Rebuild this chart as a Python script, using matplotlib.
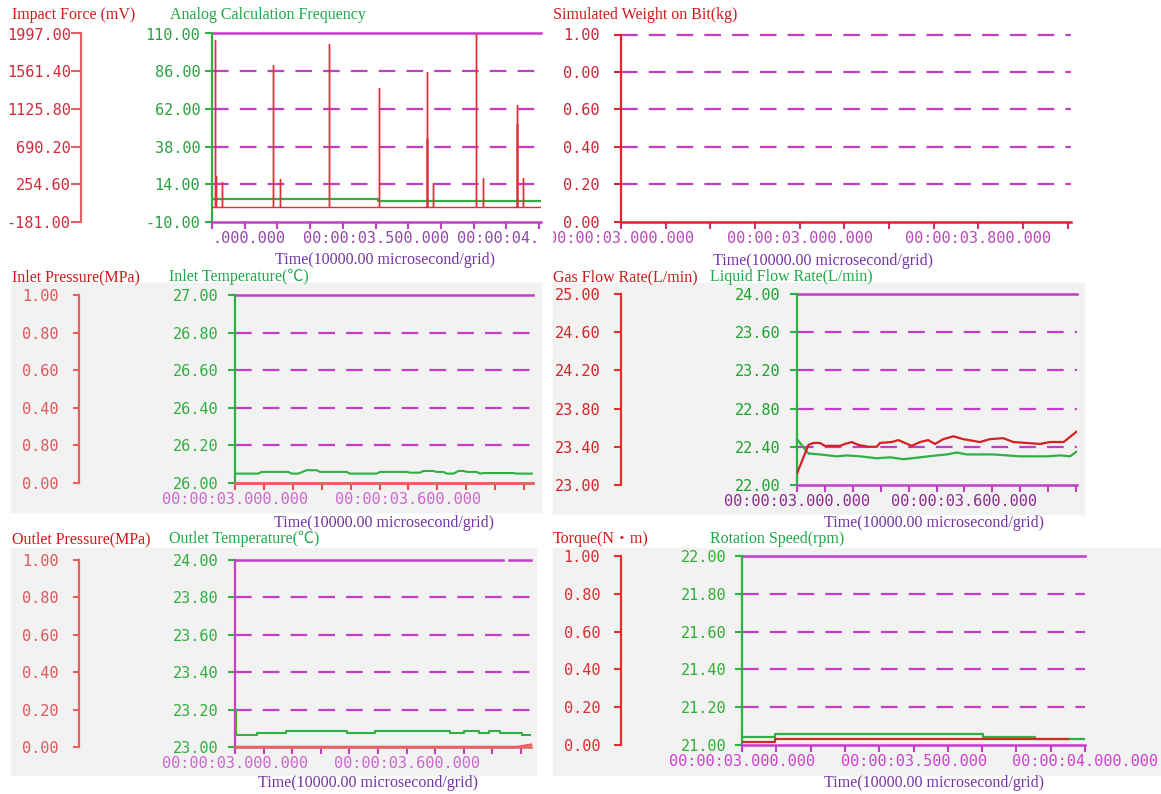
import numpy as np
import matplotlib
matplotlib.use("Agg")
import matplotlib.pyplot as plt
from matplotlib import font_manager
from matplotlib.patches import Rectangle
from matplotlib.transforms import Bbox, TransformedBbox

# ---------------- data ----------------
x_ticks = [3.0, 3.1, 3.2, 3.3, 3.4, 3.5, 3.6, 3.7, 3.8, 3.9, 4.0]

# Impact force (mV): spike times and peaks on a flat baseline
impact_spike_t = [3.010, 3.012, 3.030, 3.187, 3.207, 3.357, 3.511, 3.657,
                  3.658, 3.676, 3.808, 3.828, 3.932, 3.934, 3.950]
impact_spike_mv = [1920, 352, 282, 1631, 313, 1870, 1368, 1553,
                   787, 264, 2000, 322, 1169, 957, 322]
impact_base_mv = -7.0
impact_ticks = [1997.00, 1561.40, 1125.80, 690.20, 254.60, -181.00]
impact_xlabels = {0: ".000.000", 5: "00:00:03.500.000", 10: "00:00:04."}

# Analog calculation frequency
freq_t = [3.0, 3.508, 4.006]
freq_v = [4.5, 3.2, 3.2]
freq_ticks = [110.0, 86.0, 62.0, 38.0, 14.0, -10.0]

# Simulated weight on bit (kg)
wob_ticks = [1.0, 0.8, 0.6, 0.4, 0.2, 0.0]
wob_labels = ["1.00", "0.00", "0.60", "0.40", "0.20", "0.00"]
wob_xlabels = {0: "00:00:03.000.000", 4: "00:00:03.000.000", 8: "00:00:03.800.000"}

# Inlet pressure (MPa) / inlet temperature (C)
inlet_p_t = [3.0, 4.03]
inlet_p_mpa = [0.0, 0.0]
inlet_p_ticks = [1.0, 0.8, 0.6, 0.4, 0.2, 0.0]
inlet_p_labels = ["1.00", "0.80", "0.60", "0.40", "0.80", "0.00"]
inlet_t = [3.000, 3.081, 3.092, 3.184, 3.196, 3.219, 3.248, 3.283, 3.294, 3.386,
           3.398, 3.490, 3.502, 3.594, 3.606, 3.640, 3.652, 3.686, 3.698, 3.721,
           3.733, 3.756, 3.773, 3.790, 3.802, 3.836, 3.848, 3.859, 3.963, 3.975, 4.030]
inlet_c = [26.050, 26.050, 26.059, 26.059, 26.050, 26.050, 26.068, 26.068, 26.059, 26.059,
           26.050, 26.050, 26.059, 26.059, 26.055, 26.055, 26.064, 26.064, 26.059, 26.059,
           26.050, 26.050, 26.064, 26.064, 26.059, 26.059, 26.050, 26.053, 26.053, 26.050, 26.050]
inlet_c_ticks = [27.0, 26.8, 26.6, 26.4, 26.2, 26.0]

# Gas flow rate / liquid flow rate (L/min)
gas_t = [3.000, 3.041, 3.059, 3.082, 3.100, 3.154, 3.172, 3.196, 3.220, 3.256,
         3.286, 3.297, 3.339, 3.363, 3.387, 3.411, 3.441, 3.470, 3.494, 3.524,
         3.560, 3.596, 3.655, 3.691, 3.739, 3.775, 3.823, 3.871, 3.907, 3.955, 4.002]
gas_flow = [23.12, 23.42, 23.44, 23.44, 23.41, 23.41, 23.43, 23.45, 23.42, 23.40,
            23.40, 23.44, 23.45, 23.47, 23.44, 23.41, 23.45, 23.47, 23.43, 23.48,
            23.51, 23.48, 23.45, 23.48, 23.49, 23.45, 23.44, 23.43, 23.45, 23.45, 23.56]
gas_ticks = [25.0, 24.6, 24.2, 23.8, 23.4, 23.0]
liq_t = [3.000, 3.041, 3.082, 3.142, 3.178, 3.226, 3.286, 3.333, 3.381, 3.441,
         3.501, 3.537, 3.572, 3.608, 3.704, 3.799, 3.895, 3.943, 3.978, 4.002]
liq_flow = [22.48, 22.33, 22.32, 22.30, 22.31, 22.30, 22.28, 22.29, 22.27, 22.29,
            22.31, 22.32, 22.34, 22.32, 22.32, 22.30, 22.30, 22.31, 22.30, 22.35]
liq_ticks = [24.0, 23.6, 23.2, 22.8, 22.4, 22.0]

# Outlet pressure (MPa) / outlet temperature (C)
outlet_p_t = [3.0, 3.985, 4.035]
outlet_p_mpa = [0.0, 0.0, 0.012]
outlet_p_ticks = [1.0, 0.8, 0.6, 0.4, 0.2, 0.0]
outlet_t = [3.000, 3.002, 3.077, 3.177, 3.390, 3.490, 3.752, 3.802, 3.852, 3.889, 3.927, 4.002, 4.035]
outlet_c = [23.200, 23.066, 23.075, 23.084, 23.075, 23.084, 23.075, 23.084, 23.075, 23.084,
            23.075, 23.066, 23.066]
outlet_c_ticks = [24.0, 23.8, 23.6, 23.4, 23.2, 23.0]

# Torque (N·m) / rotation speed (rpm)
torque_t = [3.0, 3.096, 3.951]
torque_nm = [0.017, 0.030, 0.030]
torque_ticks = [1.0, 0.8, 0.6, 0.4, 0.2, 0.0]
rot_t = [3.0, 3.096, 3.704, 3.854, 4.0]
rot_rpm = [21.044, 21.057, 21.044, 21.030, 21.030]
rot_ticks = [22.0, 21.8, 21.6, 21.4, 21.2, 21.0]

xlab_3_35_4 = {0: "00:00:03.000.000", 5: "00:00:03.500.000", 10: "00:00:04.000.000"}
xlab_3_36 = {0: "00:00:03.000.000", 6: "00:00:03.600.000"}
time_label = "Time(10000.00 microsecond/grid)"

# ---------------- style ----------------
W, H = 1161, 794
plt.rcParams["lines.scale_dashes"] = False

available = {f.name for f in font_manager.fontManager.ttflist}
if "Liberation Sans Narrow" in available:
    NUM_FONT, Y_SIZE, X_SIZE = "Liberation Sans Narrow", 14.0, 15.5
else:
    NUM_FONT, Y_SIZE, X_SIZE = "DejaVu Sans Mono", 11.0, 11.0
TITLE_FONT = ["Liberation Serif", "Noto Sans CJK SC", "DejaVu Sans"]

MAGENTA = "#c23ec8"
GREEN = "#2fb043"
RED_LINE = "#e0303a"
TITLE_RED = "#d01818"
TITLE_GREEN = "#1ea84a"
PURPLE = "#7434a6"
GRAY_BG = "#f2f2f2"
DASH = (0, (12.0, 8.0))

fig = plt.figure(figsize=(W / 100, H / 100), dpi=100)
fig.patch.set_facecolor("white")


def rect(x0, y0, x1, y1):
    return [x0 / W, 1 - y1 / H, (x1 - x0) / W, (y1 - y0) / H]


def background(x0, y0, x1, y1):
    fig.add_artist(Rectangle((x0 / W, 1 - y1 / H), (x1 - x0) / W, (y1 - y0) / H,
                             transform=fig.transFigure, color=GRAY_BG, zorder=-5))


def fig_text(x, y, s, color, size=11.5, ha="left"):
    fig.text(x / W, 1 - y / H, s, color=color, fontsize=size, family=TITLE_FONT,
             ha=ha, va="center")


def main_axes(x0, x1, y0, y1, xmax, ylim, yticks, ylabels, ylab_color, ytick_color,
              left_color, bottom_color, xtick_color, xlabels, xlab_color,
              ypad=7.0, top="solid", clip=None, label_align=None):
    ax = fig.add_axes(rect(x0, y0, x1, y1))
    ax.set_facecolor("none")
    ax.set_xlim(3.0, xmax)
    ax.set_ylim(*ylim)
    for side in ("top", "right"):
        ax.spines[side].set_visible(False)
    ax.spines["left"].set_color(left_color)
    ax.spines["left"].set_linewidth(1.6)
    ax.spines["bottom"].set_color(bottom_color)
    ax.spines["bottom"].set_linewidth(1.8)
    ax.set_yticks(yticks, ylabels)
    ax.tick_params(axis="y", colors=ytick_color, labelcolor=ylab_color, length=5,
                   width=1.5, pad=ypad, labelsize=Y_SIZE)
    ax.set_xticks(x_ticks, [xlabels.get(i, "") for i in range(len(x_ticks))])
    ax.tick_params(axis="x", colors=xtick_color, labelcolor=xlab_color, length=5,
                   width=1.5, pad=1.5, labelsize=X_SIZE)
    for lbl in ax.get_yticklabels() + ax.get_xticklabels():
        lbl.set_family(NUM_FONT)
    if label_align:
        xl = ax.get_xticklabels()
        for idx, ha in label_align.items():
            xl[idx].set_horizontalalignment(ha)
    if clip is not None:
        box = TransformedBbox(Bbox.from_extents(clip[0] / W, 0, clip[1] / W, 1), fig.transFigure)
        for lbl in ax.get_xticklabels():
            lbl.set_clip_box(box)
            lbl.set_clip_on(True)
    # horizontal grid: dashed levels, solid top
    top_val, rest = yticks[0], yticks[1:-1]
    for v in rest:
        ax.axhline(v, color=MAGENTA, lw=1.6, ls=DASH, zorder=1)
    if top == "solid":
        ax.axhline(top_val, color=MAGENTA, lw=1.8, zorder=1, clip_on=False)
    elif top == "dashed":
        ax.axhline(top_val, color=MAGENTA, lw=1.6, ls=DASH, zorder=1, clip_on=False)
    else:
        ax.axhline(top_val, xmax=0.907, color=MAGENTA, lw=1.8, zorder=1, clip_on=False)
        ax.axhline(top_val, xmin=0.925, color=MAGENTA, lw=1.8, zorder=1, clip_on=False)
    return ax


def red_scale(ax, red_x, x0, x1, ylim, ticks, labels, lab_color, line_color,
              length=5, pad=10.0):
    axr = ax.twinx()
    axr.set_ylim(*ylim)
    for side in ("top", "right", "bottom"):
        axr.spines[side].set_visible(False)
    axr.spines["left"].set_visible(True)
    axr.spines["left"].set_position(("axes", (red_x - x0) / (x1 - x0)))
    axr.spines["left"].set_color(line_color)
    axr.spines["left"].set_linewidth(1.6)
    axr.yaxis.set_ticks_position("left")
    axr.yaxis.set_label_position("left")
    axr.set_yticks(ticks, labels)
    axr.tick_params(axis="y", colors=line_color, labelcolor=lab_color, length=length,
                    width=1.5, pad=pad, labelsize=Y_SIZE)
    for lbl in axr.get_yticklabels():
        lbl.set_family(NUM_FONT)
    return axr


# ---------------- panel 1: impact force / analog calculation frequency ----------------
ax1 = main_axes(212, 541, 33.5, 222, 4.006, (-10, 110), freq_ticks,
                [f"{v:.2f}" for v in freq_ticks], "#2aa040", GREEN,
                GREEN, MAGENTA, MAGENTA, impact_xlabels, "#9048a8", ypad=3.5,
                label_align={0: "left", 10: "right"})
ax1.step(freq_t, freq_v, where="post", color=GREEN, lw=1.6, zorder=3)
ax1r = red_scale(ax1, 81, 212, 541, (-181, 1997), impact_ticks,
                 [f"{v:.2f}" for v in impact_ticks], "#d42a3a", "#e0606a",
                 length=7, pad=0.5)
spike_x, spike_y = [3.0], [impact_base_mv]
for t, mv in zip(impact_spike_t, impact_spike_mv):
    spike_x += [t, t, t]
    spike_y += [impact_base_mv, mv, impact_base_mv]
spike_x.append(4.006)
spike_y.append(impact_base_mv)
ax1r.plot(spike_x, spike_y, color=RED_LINE, lw=1.0, zorder=4)
fig_text(12, 15, "Impact Force (mV)", TITLE_RED)
fig_text(170, 15, "Analog Calculation Frequency", TITLE_GREEN)
fig_text(385, 260, time_label, PURPLE, ha="center")

# ---------------- panel 2: simulated weight on bit ----------------
ax2 = main_axes(621, 1071, 34.5, 221.5, 4.007, (0, 1), wob_ticks, wob_labels,
                "#c82838", "#e02030", "#e02030", "#e02030", "#d0306a", wob_xlabels,
                "#b848b8", ypad=10.5, top="dashed", clip=(553, 1161))
fig_text(553, 15, "Simulated Weight on Bit(kg)", TITLE_RED)
fig_text(823, 261, time_label, PURPLE, ha="center")

# ---------------- panel 3: inlet pressure / inlet temperature ----------------
background(11, 283, 541, 512)
ax3 = main_axes(235, 533, 295, 483, 4.031, (26, 27), inlet_c_ticks,
                [f"{v:.2f}" for v in inlet_c_ticks], "#30b040", GREEN,
                GREEN, "#e86060", "#e05050", xlab_3_36, "#cc66cc", ypad=7.0)
ax3.plot(inlet_t, inlet_c, color=GREEN, lw=1.5, zorder=3)
ax3r = red_scale(ax3, 79, 235, 533, (0, 1), inlet_p_ticks, inlet_p_labels,
                 "#e05858", "#e86060", length=4.5, pad=10.0)
ax3r.plot(inlet_p_t, inlet_p_mpa, color="#e86060", lw=1.8, zorder=3, clip_on=False)
fig_text(12, 277, "Inlet Pressure(MPa)", TITLE_RED)
fig_text(169, 277, "Inlet Temperature(℃)", TITLE_GREEN)
fig_text(384, 523, time_label, PURPLE, ha="center")

# ---------------- panel 4: gas flow rate / liquid flow rate ----------------
background(553, 283, 1084, 514)
ax4 = main_axes(797, 1077, 294, 485, 4.003, (22, 24), liq_ticks,
                [f"{v:.2f}" for v in liq_ticks], "#20a030", GREEN,
                GREEN, MAGENTA, MAGENTA, xlab_3_36, "#8a2a8a", ypad=7.0)
ax4.plot(liq_t, liq_flow, color=GREEN, lw=1.6, zorder=3)
ax4r = red_scale(ax4, 621, 797, 1077, (23, 25), gas_ticks,
                 [f"{v:.2f}" for v in gas_ticks], "#d02828", "#e03030",
                 length=5, pad=10.0)
ax4r.plot(gas_t, gas_flow, color="#d42020", lw=1.6, zorder=4)
fig_text(553, 277, "Gas Flow Rate(L/min)", TITLE_RED)
fig_text(710, 277, "Liquid Flow Rate(L/min)", TITLE_GREEN)
fig_text(934, 523, time_label, PURPLE, ha="center")

# ---------------- panel 5: outlet pressure / outlet temperature ----------------
background(11, 548, 536, 775)
ax5 = main_axes(235, 531, 560, 747, 4.035, (23, 24), outlet_c_ticks,
                [f"{v:.2f}" for v in outlet_c_ticks], "#30b040", GREEN,
                MAGENTA, "#e86060", MAGENTA, xlab_3_36, "#cc66cc", ypad=7.0,
                top="broken")
ax5.step(outlet_t, outlet_c, where="post", color=GREEN, lw=1.5, zorder=3)
ax5r = red_scale(ax5, 79, 235, 531, (0, 1), outlet_p_ticks,
                 [f"{v:.2f}" for v in outlet_p_ticks], "#e05858", "#e86060",
                 length=4.5, pad=10.0)
ax5r.plot(outlet_p_t, outlet_p_mpa, color="#e86060", lw=1.8, zorder=3, clip_on=False)
fig_text(12, 539, "Outlet Pressure(MPa)", TITLE_RED)
fig_text(169, 539, "Outlet Temperature(℃)", TITLE_GREEN)
fig_text(368, 783, time_label, PURPLE, ha="center")

# ---------------- panel 6: torque / rotation speed ----------------
background(553, 548, 1161, 775)
ax6 = main_axes(742, 1085, 556, 745, 4.0, (21, 22), rot_ticks,
                [f"{v:.2f}" for v in rot_ticks], "#30b030", GREEN,
                GREEN, MAGENTA, MAGENTA, xlab_3_35_4, "#d040d0", ypad=6.5)
ax6.step(rot_t, rot_rpm, where="post", color=GREEN, lw=1.6, zorder=3)
ax6r = red_scale(ax6, 621, 742, 1085, (0, 1), torque_ticks,
                 [f"{v:.2f}" for v in torque_ticks], "#d83030", "#e03030",
                 length=5, pad=10.0)
ax6r.step(torque_t, torque_nm, where="post", color="#c83020", lw=1.6, zorder=4)
fig_text(553, 539, "Torque(N・m)", TITLE_RED)
fig_text(710, 539, "Rotation Speed(rpm)", TITLE_GREEN)
fig_text(934, 783, time_label, PURPLE, ha="center")

fig.savefig("out.png", dpi=100, facecolor="white")
